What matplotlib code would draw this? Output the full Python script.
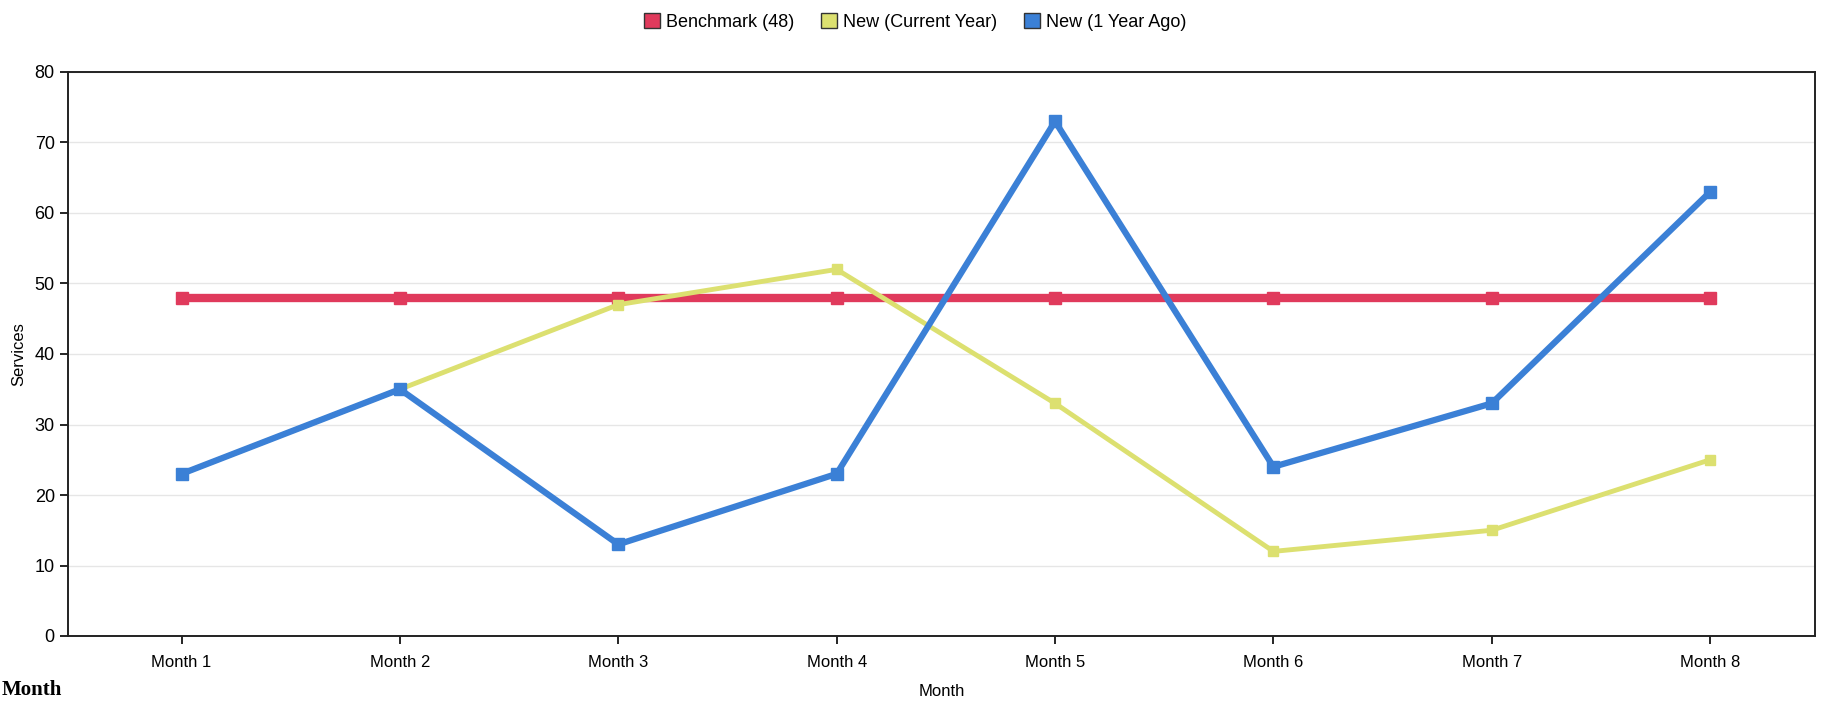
import numpy as np
import matplotlib.pyplot as plt
from matplotlib.patches import Patch

plt.rcParams['font.family'] = ['Liberation Sans', 'DejaVu Sans']

# data
months = ["Month 1", "Month 2", "Month 3", "Month 4", "Month 5", "Month 6", "Month 7", "Month 8"]
benchmark = [48, 48, 48, 48, 48, 48, 48, 48]
new_current = [23, 35, 47, 52, 33, 12, 15, 25]
new_year_ago = [23, 35, 13, 23, 73, 24, 33, 63]
y_ticks = [0, 10, 20, 30, 40, 50, 60, 70, 80]

c_red = '#E03A5C'
c_yel = '#DCE070'
c_blu = '#3B80D6'

fig = plt.figure(figsize=(18.32, 7.01), dpi=100)
ax = fig.add_axes([68 / 1832, 1 - 636 / 701, (1815 - 68) / 1832, (636 - 72) / 701])

x = np.arange(1, len(months) + 1)
ax.plot(x, benchmark, color=c_red, lw=6, marker='s', ms=9, zorder=3)
ax.plot(x, new_current, color=c_yel, lw=3.5, marker='s', ms=7, zorder=4)
ax.plot(x, new_year_ago, color=c_blu, lw=4.5, marker='s', ms=8, zorder=5)

ax.set_xlim(0.48, 8.48)
ax.set_ylim(0, 80)
ax.set_xticks(x)
ax.set_xticklabels(months, fontsize=12)
ax.set_yticks(y_ticks)
ax.tick_params(axis='y', labelsize=13, length=6, width=1.2)
ax.tick_params(axis='x', length=6, width=1.2, pad=8)
ax.grid(axis='y', color='#E6E6E6', lw=1)
ax.set_axisbelow(True)
for s in ax.spines.values():
    s.set_linewidth(1.4)
    s.set_color('#222222')

ax.set_ylabel("Services", fontsize=12, labelpad=6)
ax.set_xlabel("Month", fontsize=12, labelpad=10)

handles = [Patch(facecolor=c, edgecolor='#333333', lw=1) for c in (c_red, c_yel, c_blu)]
fig.legend(handles, ["Benchmark (48)", "New (Current Year)", "New (1 Year Ago)"],
           loc='center', bbox_to_anchor=(915 / 1832, 1 - 22 / 701), ncol=3, frameon=False,
           fontsize=13, handlelength=0.9, handleheight=0.9, handletextpad=0.3, columnspacing=1.5)

fig.text(0.001, 0.002, "Month", fontsize=15, fontweight='bold', family='Liberation Serif',
         ha='left', va='bottom')

fig.savefig("out.png", dpi=100, facecolor='white')
